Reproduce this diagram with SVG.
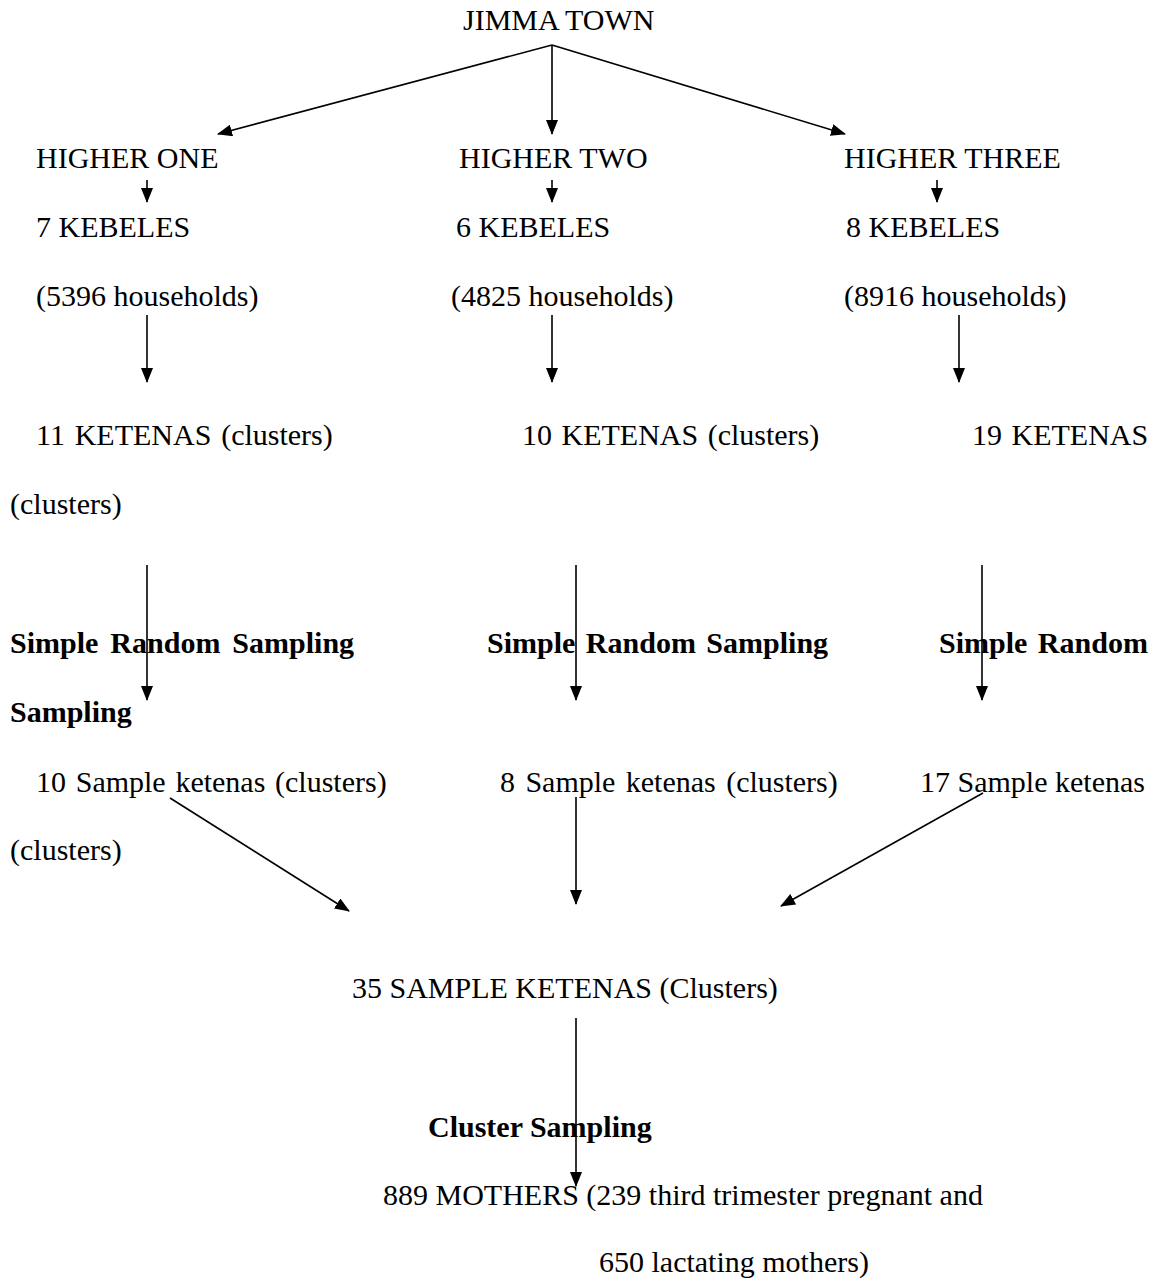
<svg xmlns="http://www.w3.org/2000/svg" width="1161" height="1281" viewBox="0 0 1161 1281">
<style>
text{font-family:"Liberation Serif","Times New Roman",serif;font-size:30px;fill:#000}
.b{font-weight:bold}
.c line{stroke:#000;stroke-width:1.6;marker-end:url(#ah)}
</style>
<defs>
<marker id="ah" markerUnits="userSpaceOnUse" markerWidth="15" markerHeight="12" refX="14" refY="6" orient="auto">
<path d="M0,0 L15,6 L0,12 z" fill="#000"/>
</marker>
</defs>
<rect width="1161" height="1281" fill="#fff"/>
<g id="n-jimma"><text x="463" y="30">JIMMA TOWN</text></g>
<g id="n-h1"><text x="36" y="168">HIGHER ONE</text></g>
<g id="n-h2"><text x="459" y="168">HIGHER TWO</text></g>
<g id="n-h3"><text x="844" y="168">HIGHER THREE</text></g>
<g id="n-k1"><text x="36" y="237">7 KEBELES</text><text x="36" y="306">(5396 households)</text></g>
<g id="n-k2"><text x="456" y="237">6 KEBELES</text><text x="451" y="306">(4825 households)</text></g>
<g id="n-k3"><text x="846" y="237">8 KEBELES</text><text x="844" y="306">(8916 households)</text></g>
<g id="n-ket1"><text x="36" y="445" word-spacing="2.3">11 KETENAS (clusters)</text><text x="10" y="514">(clusters)</text></g>
<g id="n-ket2"><text x="522" y="445" word-spacing="2">10 KETENAS (clusters)</text></g>
<g id="n-ket3"><text x="972" y="445" word-spacing="2">19 KETENAS</text></g>
<g id="n-srs1"><text class="b" x="10" y="653" word-spacing="4.5">Simple Random Sampling</text><text class="b" x="10" y="722">Sampling</text></g>
<g id="n-srs2"><text class="b" x="487" y="653" word-spacing="3">Simple Random Sampling</text></g>
<g id="n-srs3"><text class="b" x="939" y="653" word-spacing="3">Simple Random</text></g>
<g id="n-s1"><text x="36" y="792" word-spacing="2.2">10 Sample ketenas (clusters)</text><text x="10" y="860">(clusters)</text></g>
<g id="n-s2"><text x="500" y="792" word-spacing="2.9">8 Sample ketenas (clusters)</text></g>
<g id="n-s3"><text x="920" y="792">17 Sample ketenas</text></g>
<g id="n-total"><text x="352" y="998">35 SAMPLE KETENAS (Clusters)</text></g>
<g id="n-cs"><text class="b" x="428" y="1137">Cluster Sampling</text></g>
<g id="n-mothers"><text x="383" y="1205">889 MOTHERS (239 third trimester pregnant and</text><text x="599" y="1272">650 lactating mothers)</text></g>
<g id="connectors" class="c">
<line x1="552" y1="45" x2="218" y2="134"/>
<line x1="552" y1="45" x2="552" y2="134"/>
<line x1="552" y1="45" x2="845" y2="134"/>
<line x1="147" y1="180" x2="147" y2="202"/>
<line x1="552" y1="180" x2="552" y2="202"/>
<line x1="937" y1="180" x2="937" y2="202"/>
<line x1="147" y1="315" x2="147" y2="382"/>
<line x1="552" y1="315" x2="552" y2="382"/>
<line x1="959" y1="315" x2="959" y2="382"/>
<line x1="147" y1="565" x2="147" y2="700"/>
<line x1="576" y1="565" x2="576" y2="700"/>
<line x1="982" y1="565" x2="982" y2="700"/>
<line x1="170" y1="798" x2="349" y2="911"/>
<line x1="576" y1="797" x2="576" y2="904"/>
<line x1="983" y1="793" x2="781" y2="906"/>
<line x1="576" y1="1018" x2="576" y2="1186"/>
</g>
</svg>
